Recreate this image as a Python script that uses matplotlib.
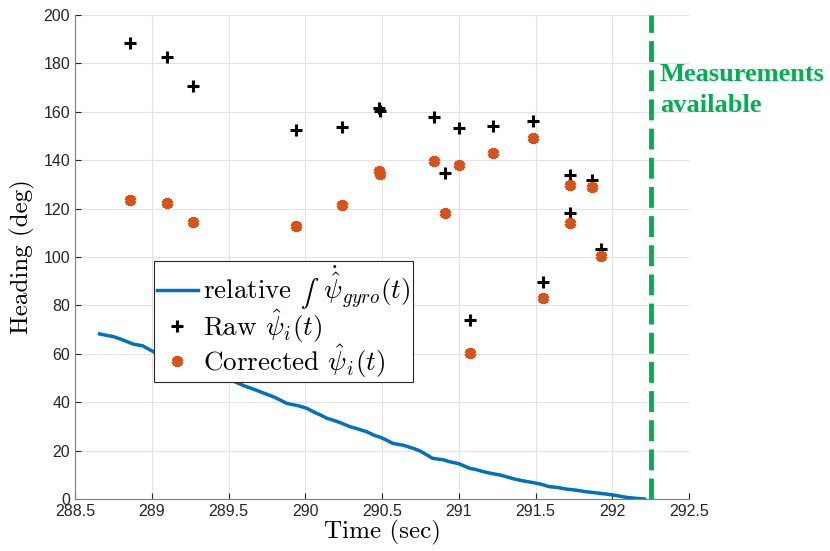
import numpy as np
import matplotlib
matplotlib.use("Agg")
import matplotlib.pyplot as plt
from matplotlib.transforms import IdentityTransform

plt.rcParams['mathtext.fontset'] = 'cm'
plt.rcParams['font.family'] = ['Liberation Sans', 'DejaVu Sans']
CM = ['cmr10', 'DejaVu Serif']

# gyro-integrated heading
GYRO_T = [288.66, 288.75, 288.80, 288.88, 288.94, 289.01, 289.10, 289.20, 289.30, 289.42,
          289.54, 289.60, 289.65, 289.72, 289.79, 289.84, 289.88, 289.95, 290.01, 290.06,
          290.10, 290.14, 290.18, 290.23, 290.29, 290.34, 290.40, 290.45, 290.49, 290.53,
          290.57, 290.64, 290.70, 290.75, 290.79, 290.83, 290.90, 290.94, 291.00, 291.07,
          291.11, 291.16, 291.21, 291.27, 291.31, 291.36, 291.41, 291.49, 291.53, 291.59,
          291.64, 291.70, 291.76, 291.83, 291.90, 291.99, 292.04, 292.09, 292.15, 292.21]
GYRO_H = [68.2, 67.1, 66.0, 64.0, 63.3, 60.9, 58.5, 56.0, 53.5, 51.0,
          48.5, 46.8, 45.7, 44.0, 42.3, 40.8, 39.5, 38.6, 37.5, 35.8,
          34.7, 33.4, 32.6, 31.5, 29.9, 29.0, 27.8, 26.3, 25.5, 24.3,
          23.0, 22.2, 21.0, 19.8, 18.3, 16.8, 16.2, 15.4, 14.6, 12.7,
          12.2, 11.3, 10.6, 9.9, 9.2, 8.3, 7.6, 6.7, 6.2, 5.1,
          4.8, 4.1, 3.7, 3.0, 2.5, 1.8, 1.3, 0.7, 0.3, 0.0]

MEAS_T = [288.858, 289.097, 289.267, 289.94, 290.24, 290.478, 290.485, 290.839, 290.908,
          290.999, 291.075, 291.225, 291.486, 291.546, 291.725, 291.725, 291.866, 291.924]
RAW_H = [188.6, 182.5, 170.7, 152.5, 153.6, 161.5, 160.4, 157.7, 134.8,
         153.3, 73.8, 154.3, 156.3, 89.5, 134.0, 118.1, 131.8, 103.2]
CORR_H = [123.6, 122.4, 114.6, 112.8, 121.6, 135.4, 134.2, 139.7, 118.3,
          138.1, 60.3, 143.1, 149.2, 83.1, 129.6, 113.9, 128.8, 100.4]

MEAS_AVAILABLE = 292.25
LEG_SIZE = 19.5

fig = plt.figure(figsize=(8.30, 5.51), dpi=100)
ax = fig.add_axes([75/830, 52/551, 614/830, 484/551])

# the integral sign is added afterwards (cm mathtext only has the big display one)
ax.plot(GYRO_T, GYRO_H, color='#0072BD', lw=2.5,
        label='relative $\\quad\\dot{\\hat{\\psi}}_{gyro}(t)$')
ax.plot(MEAS_T, RAW_H, ls='none', marker='+', ms=9, mew=2.2, color='black',
        label='Raw $\\hat{\\psi}_i(t)$')
ax.plot(MEAS_T, CORR_H, ls='none', marker=(6, 2, 0), ms=8, mew=3, color='#D95319',
        label='Corrected $\\hat{\\psi}_i(t)$')

ax.axvline(MEAS_AVAILABLE, color='#00B050', lw=3.5, dashes=(4.3, 1.7), clip_on=False)
ax.text(MEAS_AVAILABLE + 0.06, 180, 'Measurements\navailable', color='#00B050',
        fontfamily='Liberation Serif', fontweight='bold', fontsize=19,
        va='top', ha='left', linespacing=1.45, clip_on=False)

ax.set_xlim(288.5, 292.5)
ax.set_ylim(0, 200)
ax.set_xticks(np.arange(288.5, 292.51, 0.5))
ax.set_xticklabels(['288.5', '289', '289.5', '290', '290.5', '291', '291.5', '292', '292.5'])
ax.set_yticks(np.arange(0, 201, 20))
ax.tick_params(direction='in', length=4, labelsize=11.5, colors='#262626')
for side in ['top', 'right']:
    ax.spines[side].set_visible(False)
for side in ['left', 'bottom']:
    ax.spines[side].set_color('#808080')
ax.grid(True, color='#e3e3e3', lw=0.8)
ax.set_axisbelow(True)

ax.set_xlabel('Time (sec)', fontfamily=CM, fontsize=18, labelpad=1)
ax.set_ylabel('Heading (deg)', fontfamily=CM, fontsize=18, labelpad=6)

leg = ax.legend(loc='upper left', bbox_to_anchor=(0.129, 0.491),
                prop={'family': CM, 'size': LEG_SIZE}, frameon=True, fancybox=False,
                framealpha=1, handlelength=1.5, handletextpad=0.2, borderpad=0.1,
                labelspacing=-0.1, borderaxespad=0)
leg.get_frame().set_edgecolor('#262626')
leg.get_frame().set_linewidth(0.8)

fig.canvas.draw()
r = fig.canvas.get_renderer()
t0 = leg.get_texts()[0]
x0, y0 = t0.get_transform().transform(t0.get_position())
tmp = fig.text(0, 0, 'relative', fontfamily=CM, fontsize=LEG_SIZE)
w = tmp.get_window_extent(r).width
tmp.remove()
fig.text(x0 + w + 9, y0, '\u222b', fontfamily='STIXGeneral', fontsize=LEG_SIZE,
         va='baseline', ha='left', transform=IdentityTransform(), zorder=10)

fig.savefig('out.png', dpi=100)
